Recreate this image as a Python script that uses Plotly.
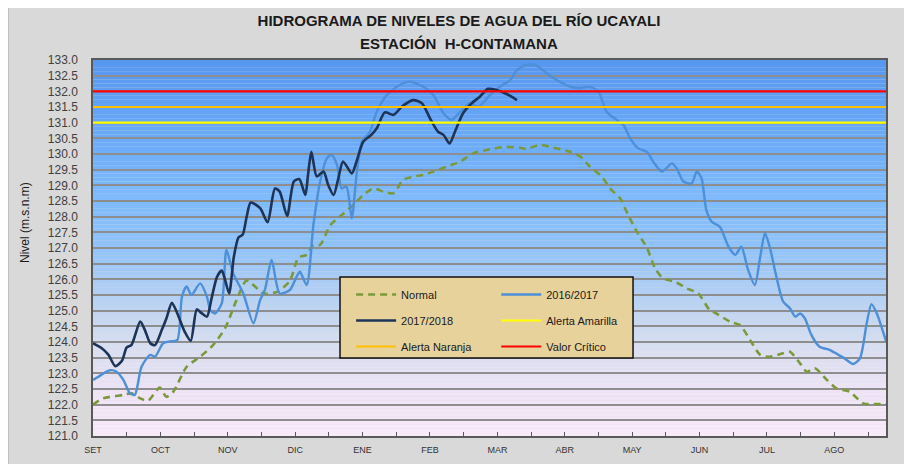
import plotly.graph_objects as go

# ---------------- data (x in months since 1 SET, uniform monthly axis) ----------------
meses = ["SET", "OCT", "NOV", "DIC", "ENE", "FEB", "MAR", "ABR", "MAY", "JUN", "JUL", "AGO"]

normal_mes = [0.00, 0.15, 0.45, 0.57, 0.70, 0.82, 0.99, 1.09, 1.19, 1.39, 1.59, 1.78, 1.96, 2.13,
              2.28, 2.53, 2.73, 2.92, 3.05, 3.17, 3.27, 3.37, 3.52, 3.66, 3.86, 4.01, 4.16, 4.31,
              4.46, 4.60, 4.75, 4.90, 5.05, 5.25, 5.45, 5.64, 5.89, 6.09, 6.34, 6.43, 6.63, 6.83,
              7.08, 7.23, 7.37, 7.55, 7.67, 7.82, 7.94, 8.07, 8.22, 8.34, 8.46, 8.64, 8.81, 8.98,
              9.15, 9.25, 9.45, 9.60, 9.75, 9.90, 10.04, 10.24, 10.34, 10.49, 10.59, 10.71, 10.89,
              11.03, 11.23, 11.43, 11.63, 11.77]
normal_nivel = [122.00, 122.20, 122.31, 122.36, 122.20, 122.13, 122.55, 122.25, 122.41, 123.21,
                123.53, 123.90, 124.44, 125.34, 125.96, 125.55, 125.60, 125.95, 126.70, 126.78,
                127.10, 127.10, 127.73, 128.00, 128.37, 128.69, 128.90, 128.80, 128.75, 129.17,
                129.28, 129.33, 129.44, 129.60, 129.76, 130.02, 130.15, 130.22, 130.20, 130.16,
                130.29, 130.20, 130.07, 129.92, 129.60, 129.28, 128.90, 128.59, 128.05, 127.52,
                127.00, 126.35, 126.03, 125.92, 125.71, 125.55, 125.02, 124.91, 124.65, 124.54,
                124.06, 123.59, 123.53, 123.64, 123.69, 123.32, 123.05, 123.16, 122.79, 122.52,
                122.41, 122.04, 122.02, 122.02]

s1617_mes = [0.00, 0.10, 0.25, 0.35, 0.45, 0.55, 0.62, 0.72, 0.85, 0.92, 1.04, 1.14, 1.25, 1.32,
             1.39, 1.46, 1.59, 1.69, 1.74, 1.81, 1.91, 1.98, 2.08, 2.23, 2.38, 2.48, 2.55, 2.65,
             2.77, 2.92, 3.02, 3.07, 3.17, 3.27, 3.37, 3.47, 3.54, 3.62, 3.69, 3.76, 3.84, 3.91,
             3.99, 4.11, 4.21, 4.36, 4.55, 4.70, 4.90, 5.05, 5.20, 5.32, 5.45, 5.59, 5.72, 5.89,
             6.04, 6.19, 6.29, 6.43, 6.58, 6.73, 6.88, 7.08, 7.23, 7.37, 7.50, 7.62, 7.77, 7.87,
             7.97, 8.09, 8.22, 8.31, 8.44, 8.59, 8.66, 8.76, 8.88, 8.96, 9.03, 9.10, 9.18, 9.30,
             9.43, 9.53, 9.62, 9.72, 9.82, 9.90, 9.97, 10.04, 10.14, 10.24, 10.34, 10.42, 10.49,
             10.56, 10.66, 10.78, 10.93, 11.06, 11.13, 11.28, 11.38, 11.48, 11.55, 11.63, 11.77]
s1617_nivel = [122.79, 122.92, 123.10, 123.05, 122.79, 122.36, 122.31, 123.21, 123.59, 123.53,
               123.96, 124.02, 124.06, 125.45, 125.77, 125.50, 125.87, 125.45, 125.02, 124.91,
               125.23, 126.94, 126.19, 125.55, 124.60, 125.34, 125.66, 126.62, 125.55, 125.66,
               126.08, 126.24, 125.82, 127.73, 129.12, 129.86, 129.97, 129.65, 128.90, 128.96,
               127.95, 129.33, 130.39, 130.71, 131.35, 131.88, 132.20, 132.31, 132.15, 131.88,
               131.30, 131.09, 131.35, 131.62, 131.51, 131.88, 132.15, 132.36, 132.68, 132.84,
               132.82, 132.58, 132.36, 132.15, 132.10, 132.15, 131.99, 131.35, 131.09, 130.93,
               130.50, 130.18, 130.07, 129.76, 129.44, 129.70, 129.54, 129.12, 129.06, 129.44,
               129.22, 128.21, 127.84, 127.68, 127.04, 126.78, 127.04, 126.30, 125.82, 126.72,
               127.47, 127.04, 126.08, 125.29, 125.08, 124.81, 124.91, 124.76, 124.22, 123.85,
               123.75, 123.59, 123.51, 123.30, 123.48, 124.60, 125.21, 124.91, 124.00]

s1718_mes = [0.00, 0.13, 0.23, 0.33, 0.43, 0.50, 0.57, 0.70, 0.77, 0.85, 0.92, 1.02, 1.09, 1.17,
             1.25, 1.36, 1.45, 1.54, 1.61, 1.69, 1.76, 1.84, 1.91, 1.96, 2.02, 2.09, 2.16, 2.22,
             2.28, 2.34, 2.48, 2.59, 2.70, 2.77, 2.88, 2.98, 3.06, 3.15, 3.19, 3.24, 3.32, 3.42,
             3.49, 3.57, 3.64, 3.71, 3.84, 3.91, 4.01, 4.13, 4.21, 4.33, 4.46, 4.58, 4.75, 4.88,
             5.00, 5.12, 5.20, 5.29, 5.37, 5.49, 5.62, 5.74, 5.86, 5.99, 6.11, 6.21, 6.29]
s1718_nivel = [123.96, 123.80, 123.59, 123.23, 123.40, 123.83, 123.90, 124.65, 124.38, 123.96,
               123.90, 124.38, 124.76, 125.25, 124.92, 124.33, 124.04, 125.04, 124.92, 124.81,
               125.40, 126.08, 126.28, 125.98, 125.55, 126.72, 127.34, 127.42, 128.00, 128.45,
               128.27, 127.82, 128.90, 128.80, 128.02, 129.12, 129.20, 128.69, 129.33, 130.07,
               129.28, 129.44, 129.01, 128.69, 129.22, 129.76, 129.38, 129.76, 130.39, 130.61,
               130.82, 131.33, 131.25, 131.51, 131.72, 131.62, 131.14, 130.71, 130.61, 130.34,
               130.71, 131.30, 131.62, 131.83, 132.08, 132.04, 131.94, 131.83, 131.72]

alerta_amarilla = 131.0
alerta_naranja = 131.5
valor_critico = 132.0

# ---------------- figure ----------------
X_MAX = 11.766
Y_MIN, Y_MAX = 121.0, 133.0
FONT = "Liberation Sans, Arial, sans-serif"

fig = go.Figure()

fig.add_trace(go.Scatter(x=normal_mes, y=normal_nivel, mode="lines", name="Normal",
                         line=dict(color="#7a9a3a", width=2.6, dash="7px,5px", shape="spline", smoothing=0.7),
                         legend="legend", legendgroup="a"))
fig.add_trace(go.Scatter(x=s1617_mes, y=s1617_nivel, mode="lines", name="2016/2017",
                         line=dict(color="#4d8fd8", width=2.4, shape="spline", smoothing=0.7),
                         legend="legend2", legendgroup="b"))
fig.add_trace(go.Scatter(x=s1718_mes, y=s1718_nivel, mode="lines", name="2017/2018",
                         line=dict(color="#1c3458", width=2.6, shape="spline", smoothing=0.7),
                         legend="legend", legendgroup="c"))
fig.add_trace(go.Scatter(x=[0, X_MAX], y=[alerta_amarilla] * 2, mode="lines", name="Alerta Amarilla",
                         line=dict(color="#ffff00", width=2.2), legend="legend2", legendgroup="d"))
fig.add_trace(go.Scatter(x=[0, X_MAX], y=[alerta_naranja] * 2, mode="lines", name="Alerta Naranja",
                         line=dict(color="#ffc000", width=2.2), legend="legend", legendgroup="e"))
fig.add_trace(go.Scatter(x=[0, X_MAX], y=[valor_critico] * 2, mode="lines", name="Valor Crítico",
                         line=dict(color="#ff0000", width=2.2), legend="legend2", legendgroup="f"))

# background styling: chart area + vertical gradient in plot area
shapes = [dict(type="rect", xref="paper", yref="paper", x0=-0.1072, x1=1.06, y0=-0.12, y1=1.17,
               fillcolor="#d9d9d9", line=dict(color="#a6a6a6", width=1), layer="below")]
stops = [(121.0, (250, 234, 250)), (122.5, (237, 228, 246)), (124.0, (214, 222, 240)),
         (125.5, (180, 208, 243)), (127.0, (145, 195, 250)), (129.0, (122, 184, 252)),
         (131.0, (102, 166, 248)), (133.0, (86, 151, 240))]


def col(v):
    for (a, ca), (b, cb) in zip(stops[:-1], stops[1:]):
        if a <= v <= b:
            t = (v - a) / (b - a)
            return "rgb(%d,%d,%d)" % tuple(round(ca[i] + (cb[i] - ca[i]) * t) for i in range(3))
    return "rgb(86,151,240)"


step = 0.125
n = int((Y_MAX - Y_MIN) / step)
for i in range(n):
    y0 = Y_MIN + i * step
    shapes.append(dict(type="rect", xref="paper", yref="y", x0=0, x1=1, y0=y0, y1=y0 + step,
                       fillcolor=col(y0 + step / 2), line=dict(width=0), layer="below"))

# legend box (parchment)
shapes.append(dict(type="rect", xref="paper", yref="paper", x0=0.3115, x1=0.681, y0=0.2074, y1=0.4229,
                   fillcolor="#e8d29c", line=dict(color="#111111", width=1.5), layer="above"))

tickvals = [i * 0.5 for i in range(24)]
ticktext = [meses[i // 2] if i % 2 == 0 else "" for i in range(24)]

legend_common = dict(bgcolor="rgba(0,0,0,0)", borderwidth=0, orientation="v",
                     font=dict(family=FONT, size=11, color="#1a1a1a"),
                     itemwidth=40, tracegroupgap=7, traceorder="grouped",
                     xanchor="left", yanchor="top")

fig.update_layout(
    width=912, height=464,
    margin=dict(l=85, r=34, t=52, b=36),
    paper_bgcolor="#ffffff",
    plot_bgcolor="rgba(0,0,0,0)",
    shapes=shapes,
    title=dict(text="<b>HIDROGRAMA DE NIVELES DE AGUA DEL RÍO UCAYALI</b>",
               x=0.4945, xref="container", xanchor="center", y=1 - 13 / 464, yanchor="middle",
               font=dict(family=FONT, size=15, color="#1a1a1a")),
    xaxis=dict(range=[0, X_MAX], tickvals=tickvals, ticktext=ticktext, ticks="inside", ticklen=4,
               tickcolor="#595959", showgrid=False, zeroline=False,
               showline=True, linecolor="#595959", linewidth=1.5, mirror=True,
               tickfont=dict(family=FONT, size=9, color="#333333"), ticklabelstandoff=4),
    yaxis=dict(range=[Y_MIN, Y_MAX], dtick=0.5, tickformat=".1f", showgrid=True,
               gridcolor="#8e8e8e", gridwidth=1.6, zeroline=False,
               showline=True, linecolor="#595959", linewidth=1.5, mirror=True,
               ticks="", ticklabelstandoff=11,
               tickfont=dict(family=FONT, size=12, color="#404040")),
    legend=dict(x=0.3255, y=0.4149, **legend_common),
    legend2=dict(x=0.5085, y=0.4149, **legend_common),
    annotations=[
        dict(text="<b>ESTACIÓN  H-CONTAMANA</b>", xref="paper", yref="paper",
             x=(451 - 85) / 793, y=(428 - 36) / 376, xanchor="center", yanchor="middle",
             showarrow=False, font=dict(family=FONT, size=15, color="#1a1a1a")),
        dict(text="Nivel (m.s.n.m)", xref="paper", yref="paper", x=-0.0858, y=0.569,
             xanchor="center", yanchor="middle", textangle=-90, showarrow=False,
             font=dict(family=FONT, size=12, color="#1a1a1a")),
    ],
)

fig.write_html("out.html")
